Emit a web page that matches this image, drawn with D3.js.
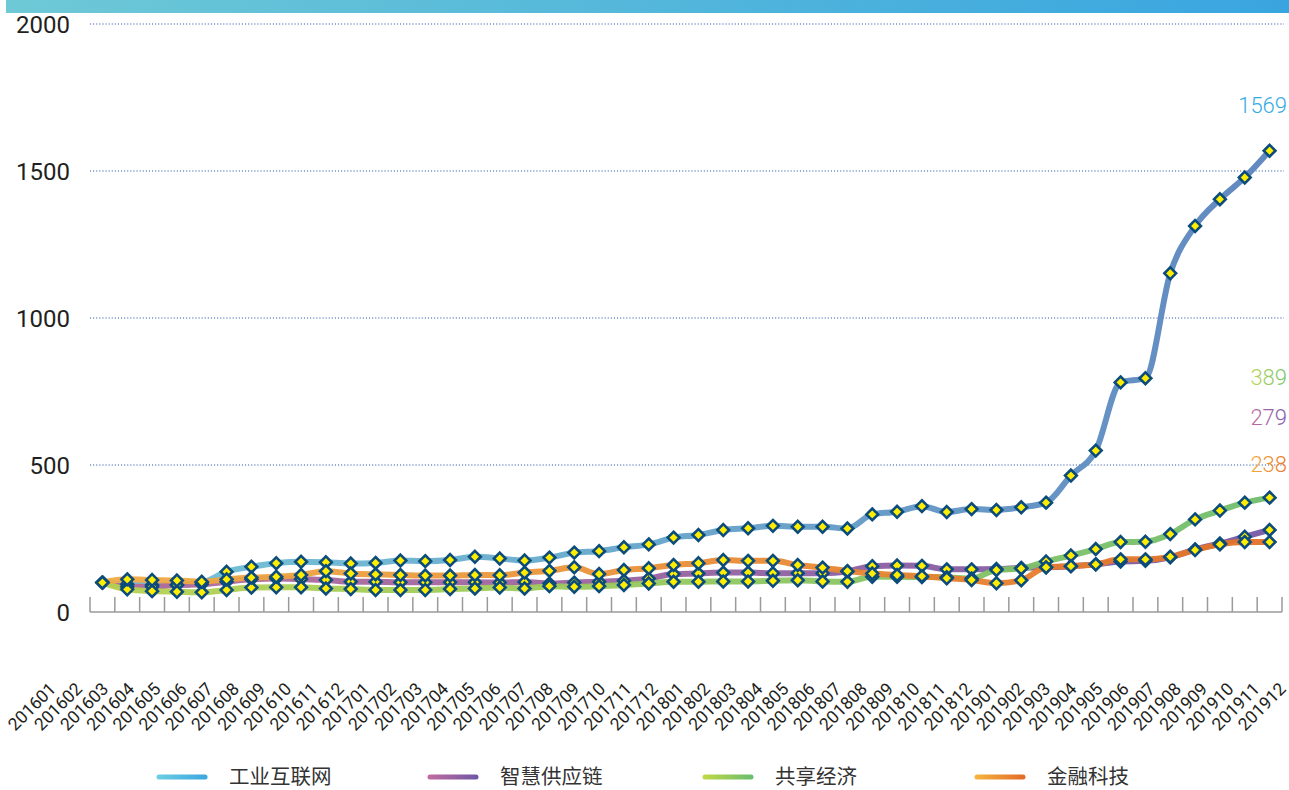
<!DOCTYPE html>
<html><head><meta charset="utf-8">
<script src="https://cdn.jsdelivr.net/npm/d3@7"></script>
<style>
html,body{margin:0;padding:0;background:#fff;}
svg{display:block;}
</style></head>
<body>
<svg id="chart" width="1289" height="790"></svg>
<script>
const months = ["201601","201602","201603","201604","201605","201606","201607","201608","201609","201610","201611","201612",
"201701","201702","201703","201704","201705","201706","201707","201708","201709","201710","201711","201712",
"201801","201802","201803","201804","201805","201806","201807","201808","201809","201810","201811","201812",
"201901","201902","201903","201904","201905","201906","201907","201908","201909","201910","201911","201912"];

const industrialInternet = [100,94,92,92,100,137,154,166,171,169,165,167,175,173,177,188,182,175,185,202,207,220,230,253,
262,279,285,293,290,290,284,332,341,360,340,350,347,356,372,464,549,781,795,1152,1313,1404,1478,1569];
const smartSupplyChain = [100,86,86,92,94,103,111,114,112,109,103,103,101,101,101,101,100,102,97,100,103,106,114,129,
131,134,134,132,132,132,138,156,158,157,145,145,146,150,152,156,162,172,174,186,213,233,256,279];
const sharingEconomy = [100,77,71,69,67,75,83,84,84,80,78,75,75,75,78,80,83,80,88,86,88,92,97,103,
103,104,104,106,108,104,103,120,120,119,118,114,143,148,172,192,214,238,239,265,315,345,372,389];
const fintech = [100,111,109,107,103,111,117,120,126,139,131,128,126,124,124,126,125,134,140,152,129,143,149,160,
166,177,174,174,160,151,139,131,126,122,115,109,98,108,152,156,162,179,179,188,211,230,238,238];

const seriesNames = ["工业互联网","智慧供应链","共享经济","金融科技"];
const seriesValues = [industrialInternet, smartSupplyChain, sharingEconomy, fintech];
const yTicks = [0,500,1000,1500,2000];

const palette = [
  {from:"#6fc3d6", to:"#5a82bd", label:["#35a9e3","#35a9e3"], leg:["#6fcde3","#3aa7e0"]},
  {from:"#b56c9a", to:"#7558a6", label:["#c46aa0","#7a5eae"], leg:["#c06c9e","#6f56a6"]},
  {from:"#b7d24f", to:"#6fbd6d", label:["#b9d757","#78c36c"], leg:["#c1d946","#69bd6e"]},
  {from:"#f0ab44", to:"#e37128", label:["#f5ac3a","#e8772a"], leg:["#f5b53e","#e26a27"]}
];

const svg = d3.select("#chart");
const defs = svg.append("defs");

// top bar
const tg = defs.append("linearGradient").attr("id","topbar").attr("x1","0").attr("x2","1");
tg.append("stop").attr("offset","0").attr("stop-color","#6ec9d6");
tg.append("stop").attr("offset","1").attr("stop-color","#39a5e0");
svg.append("rect").attr("x",6).attr("y",0).attr("width",1283).attr("height",13).attr("fill","url(#topbar)");

const x = d3.scaleBand().domain(months).range([90,1282]);
const xLab = d3.scalePoint().domain(months).range([57,1287]);
const y = d3.scaleLinear().domain([0,2000]).range([612,24]);
const cx = m => x(m) + x.bandwidth()/2;

// gridlines
svg.append("g").selectAll("line").data(yTicks.filter(t=>t>0)).join("line")
  .attr("x1",90).attr("x2",1284).attr("y1",d=>y(d)).attr("y2",d=>y(d))
  .attr("stroke","#2f56a8").attr("stroke-width",1.1).attr("stroke-dasharray","1.1,2");

// y labels
svg.append("g").selectAll("text").data(yTicks).join("text")
  .attr("x",70).attr("y",d=>y(d)).attr("dy","0.36em").attr("text-anchor","end")
  .attr("font-family","Roboto, 'Noto Sans', sans-serif").attr("font-size",24).attr("fill","#231f20")
  .text(d=>d);

// x axis line & ticks
const ax = svg.append("g");
ax.append("line").attr("x1",90).attr("x2",1282).attr("y1",612).attr("y2",612)
  .attr("stroke","#9a9a9a").attr("stroke-width",1.5);
const boundaries = months.map(m=>x(m)).concat([x.range()[1]]);
ax.selectAll("line.tk").data(boundaries).join("line").attr("class","tk")
  .attr("x1",d=>d).attr("x2",d=>d).attr("y1",597).attr("y2",612)
  .attr("stroke","#9a9a9a").attr("stroke-width",1.5);

// x labels
svg.append("g").selectAll("text").data(months).join("text")
  .attr("transform",m=>`translate(${xLab(m)},690) rotate(-45)`)
  .attr("text-anchor","end")
  .attr("font-family","Roboto, 'Noto Sans', sans-serif").attr("font-size",17.5).attr("fill","#231f20")
  .text(m=>m);

// series
const line = d3.line().x((d,i)=>cx(months[i])).y(d=>y(d)).curve(d3.curveMonotoneX);
seriesValues.forEach((vals,k)=>{
  const gid = "sg"+k;
  const g = defs.append("linearGradient").attr("id",gid).attr("gradientUnits","userSpaceOnUse")
    .attr("x1",90).attr("x2",1282).attr("y1",0).attr("y2",0);
  g.append("stop").attr("offset","0").attr("stop-color",palette[k].from);
  g.append("stop").attr("offset","1").attr("stop-color",palette[k].to);
  svg.append("path").datum(vals).attr("d",line).attr("fill","none")
    .attr("stroke",`url(#${gid})`).attr("stroke-width",6).attr("stroke-linejoin","round").attr("opacity",0.95);
});
seriesValues.forEach((vals,k)=>{
  svg.append("g").selectAll("path").data(vals).join("path")
    .attr("d",d3.symbol().type(d3.symbolDiamond2).size(88))
    .attr("transform",(d,i)=>`translate(${cx(months[i])},${y(d)})`)
    .attr("fill","#ffee00").attr("stroke","#0b4c7c").attr("stroke-width",2.6);
});

// end labels
const endLabelY = [113, 425, 385, 472];
seriesValues.forEach((vals,k)=>{
  const gid = "lg"+k;
  const g = defs.append("linearGradient").attr("id",gid).attr("x1","0").attr("x2","1");
  g.append("stop").attr("offset","0").attr("stop-color",palette[k].label[0]);
  g.append("stop").attr("offset","1").attr("stop-color",palette[k].label[1]);
  svg.append("text").attr("x",1287).attr("y",endLabelY[k])
    .attr("text-anchor","end").attr("font-family","Roboto, 'Noto Sans', sans-serif")
    .attr("font-size",22).attr("font-weight",300).attr("fill",`url(#${gid})`)
    .text(vals[vals.length-1]);
});

// legend
const legX = [157, 428, 703, 975];
seriesNames.forEach((name,k)=>{
  const gid = "leg"+k;
  const g = defs.append("linearGradient").attr("id",gid).attr("gradientUnits","userSpaceOnUse")
    .attr("x1",legX[k]).attr("x2",legX[k]+50).attr("y1",0).attr("y2",0);
  g.append("stop").attr("offset","0").attr("stop-color",palette[k].leg[0]);
  g.append("stop").attr("offset","1").attr("stop-color",palette[k].leg[1]);
  svg.append("line").attr("x1",legX[k]+2).attr("x2",legX[k]+48).attr("y1",777).attr("y2",777)
    .attr("stroke",`url(#${gid})`).attr("stroke-width",5).attr("stroke-linecap","round");
  svg.append("text").attr("x",legX[k]+72).attr("y",777).attr("dy","0.36em")
    .attr("font-family","'Noto Sans CJK SC', sans-serif").attr("font-size",20.5).attr("fill","#333")
    .text(name);
});
</script>
</body></html>
